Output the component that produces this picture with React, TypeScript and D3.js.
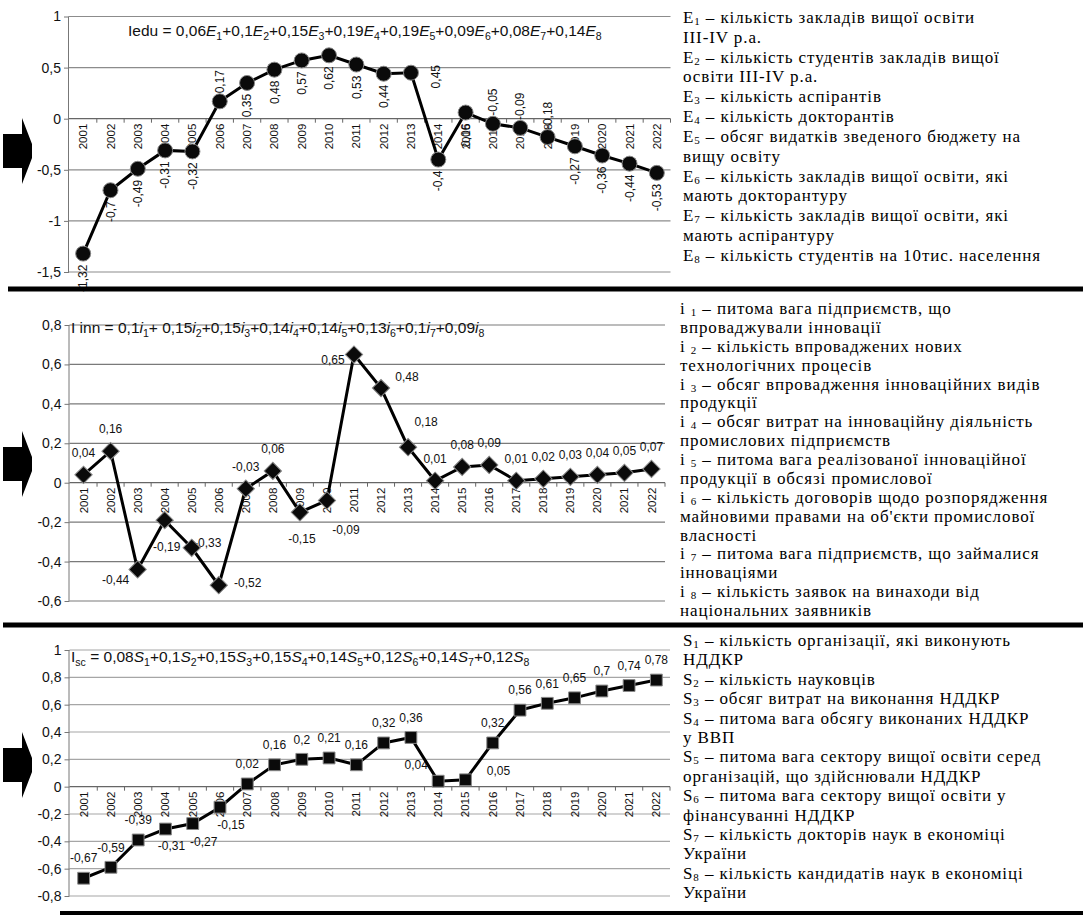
import React, { useEffect, useRef } from "react";
import * as d3 from "d3";

// categories
const years = [
  "2001", "2002", "2003", "2004", "2005", "2006", "2007", "2008", "2009", "2010", "2011",
  "2012", "2013", "2014", "2015", "2016", "2017", "2018", "2019", "2020", "2021", "2022",
];

// Iedu
const eduValues = [
  -1.32, -0.7, -0.49, -0.31, -0.32, 0.17, 0.35, 0.48, 0.57, 0.62, 0.53,
  0.44, 0.45, -0.4, 0.06, -0.05, -0.09, -0.18, -0.27, -0.36, -0.44, -0.53,
];
const eduTicks = [1, 0.5, 0, -0.5, -1, -1.5];
const eduLabelPos = [
  "b", "b", "b", "b", "b", "t", "b", "b", "b", "b", "b",
  "b", "r", "b", "b", "t", "t", "t", "b", "b", "b", "b",
];

// I inn
const innValues = [
  0.04, 0.16, -0.44, -0.19, -0.33, -0.52, -0.03, 0.06, -0.15, -0.09, 0.65,
  0.48, 0.18, 0.01, 0.08, 0.09, 0.01, 0.02, 0.03, 0.04, 0.05, 0.07,
];
const innTicks = [0.8, 0.6, 0.4, 0.2, 0, -0.2, -0.4, -0.6];
const innLabelPos = [
  "t", "t", "bl", "b", "r", "rr", "t", "t", "b", "br", "l",
  "tr", "tr2", "t", "t", "t", "t", "t", "t", "t", "t", "t",
];

// Isc
const scValues = [
  -0.67, -0.59, -0.39, -0.31, -0.27, -0.15, 0.02, 0.16, 0.2, 0.21, 0.16,
  0.32, 0.36, 0.04, 0.05, 0.32, 0.56, 0.61, 0.65, 0.7, 0.74, 0.78,
];
const scTicks = [1, 0.8, 0.6, 0.4, 0.2, 0, -0.2, -0.4, -0.6, -0.8];
const scLabelPos = [
  "t", "t", "t", "b", "br", "br", "t", "t", "t", "t", "t",
  "t", "t", "tl", "r", "t", "t", "t", "t", "t", "t", "t",
];

const eduFormula = "Iedu = 0,06E1+0,1E2+0,15E3+0,19E4+0,19E5+0,09E6+0,08E7+0,14E8";
const innFormula = "I inn = 0,1i1+ 0,15i2+0,15i3+0,14i4+0,14i5+0,13i6+0,1i7+0,09i8";
const scFormula = "I_sc = 0,08S1+0,1S2+0,15S3+0,15S4+0,14S5+0,12S6+0,14S7+0,12S8";

const eduLegend = [
  "E|1| – кількість закладів вищої освіти",
  "III-IV р.а.",
  "E|2| – кількість студентів закладів вищої",
  "освіти III-IV р.а.",
  "E|3| – кількість аспірантів",
  "E|4| – кількість докторантів",
  "E|5| – обсяг видатків зведеного бюджету на",
  "вищу освіту",
  "E|6| – кількість закладів вищої освіти, які",
  "мають докторантуру",
  "E|7| – кількість закладів вищої освіти, які",
  "мають аспірантуру",
  "E|8| – кількість студентів на 10тис. населення",
];
const innLegend = [
  "i |1| – питома вага підприємств, що",
  "впроваджували інновації",
  "i |2| – кількість впроваджених нових",
  "технологічних процесів",
  "i |3| – обсяг впровадження інноваційних видів",
  "продукції",
  "i |4| – обсяг витрат на інноваційну діяльність",
  "промислових підприємств",
  "i |5| – питома вага реалізованої інноваційної",
  "продукції в обсязі промислової",
  "i |6| – кількість договорів щодо розпорядження",
  "майновими правами на об'єкти промислової",
  "власності",
  "i |7| – питома вага підприємств, що займалися",
  "інноваціями",
  "i |8| – кількість заявок на винаходи від",
  "національних заявників",
];
const scLegend = [
  "S|1| – кількість організації, які виконують",
  "НДДКР",
  "S|2| – кількість науковців",
  "S|3| – обсяг витрат на виконання НДДКР",
  "S|4| – питома вага обсягу виконаних НДДКР",
  "у ВВП",
  "S|5| – питома вага сектору вищої освіти серед",
  "організацій, що здійснювали НДДКР",
  "S|6| – питома вага сектору вищої освіти у",
  "фінансуванні НДДКР",
  "S|7| – кількість докторів наук в економіці",
  "України",
  "S|8| – кількість кандидатів наук в економіці",
  "України",
];

const SANS = "Liberation Sans, Arial, sans-serif";
const SERIF = "Liberation Serif, Times New Roman, serif";
const fmt = (v) => String(v).replace(".", ",");

const panels = [
  {
    values: eduValues, ticks: eduTicks, domain: [-1.5, 1], yRange: [272, 16.5], xRange: [69.5, 670.5],
    marker: "circle", labelPos: eduLabelPos, rotated: true, formula: eduFormula, fx: 128, fy: 36,
    grid: "#8c8c8c", arrowY: 151, legend: eduLegend, lx: 683, ly: 23, lstep: 19.83,
  },
  {
    values: innValues, ticks: innTicks, domain: [-0.6, 0.8], yRange: [601, 325], xRange: [70, 665],
    marker: "diamond", labelPos: innLabelPos, rotated: false, formula: innFormula, fx: 71, fy: 333,
    grid: "#7a7a7a", arrowY: 464, legend: innLegend, lx: 680, ly: 314, lstep: 18.875,
    offsets: { t: [0, -22], b: [2, 27], bl: [-22, 10], br: [19, 29], l: [-21, 5], r: [16, -5], rr: [29, -2], tr: [26, -11], tr2: [18, -25] },
  },
  {
    values: scValues, ticks: scTicks, domain: [-0.8, 1], yRange: [896, 650], xRange: [70, 670],
    marker: "square", labelPos: scLabelPos, rotated: false, formula: scFormula, fx: 71, fy: 662,
    grid: "#a6a6a6", arrowY: 765, legend: scLegend, lx: 683, ly: 646, lstep: 19.4,
    offsets: { t: [0, -20], b: [6, 17], br: [11, 18], tl: [-22, -16], r: [33, -9] },
  },
];

function richText(text, str) {
  const re = /_([a-z]+)|([A-Za-z])(\d)/g;
  let last = 0;
  let shifted = false;
  let m;
  const plain = (s, italic) => {
    const t = text.append("tspan").text(s);
    if (italic) t.attr("font-style", "italic");
    if (shifted) { t.attr("dy", -4); shifted = false; }
  };
  const sub = (s) => {
    text.append("tspan").attr("dy", shifted ? 0 : 4).attr("font-size", "0.68em").text(s);
    shifted = true;
  };
  while ((m = re.exec(str))) {
    if (m.index > last) plain(str.slice(last, m.index), false);
    if (m[1]) sub(m[1]);
    else { plain(m[2], true); sub(m[3]); }
    last = re.lastIndex;
  }
  if (last < str.length) plain(str.slice(last), false);
}

const App = () => {
  const svgRef = useRef(null);

  useEffect(() => {
    const svg = d3.select(svgRef.current);
    svg.selectAll("*").remove();
    svg.append("rect").attr("width", 1086).attr("height", 918).attr("fill", "#fff");

    panels.forEach((p) => {
      const g = svg.append("g");
      const x = d3.scaleBand().domain(years).range(p.xRange).paddingInner(0);
      const y = d3.scaleLinear().domain(p.domain).range(p.yRange);
      const cx = (i) => x(years[i]) + x.bandwidth() / 2;
      const y0 = y(0);
      const axisX = p.xRange[0] - 0.5;

      // gridlines
      g.append("g")
        .selectAll("line")
        .data(p.ticks.filter((t) => t !== 0))
        .join("line")
        .attr("x1", axisX)
        .attr("x2", p.xRange[1])
        .attr("y1", (d) => y(d))
        .attr("y2", (d) => y(d))
        .attr("stroke", p.grid)
        .attr("stroke-width", 1.2);

      // y axis
      g.append("g")
        .attr("transform", `translate(${axisX},0)`)
        .call(d3.axisLeft(y).tickValues(p.ticks).tickSize(5).tickPadding(3).tickFormat(fmt))
        .call((a) => a.select(".domain").attr("stroke", "#777").attr("d", `M-0.5,${p.yRange[1]}V${p.yRange[0]}`))
        .call((a) => a.selectAll(".tick line").attr("stroke", "#777"))
        .call((a) => a.selectAll(".tick text").attr("font-family", SANS).attr("font-size", 14).attr("fill", "#111"));

      // zero axis with category boundary ticks
      g.append("line")
        .attr("x1", axisX).attr("x2", p.xRange[1])
        .attr("y1", y0).attr("y2", y0)
        .attr("stroke", "#666").attr("stroke-width", 1.3);
      g.append("g")
        .selectAll("line")
        .data(d3.range(1, years.length + 1))
        .join("line")
        .attr("x1", (i) => p.xRange[0] + i * x.step())
        .attr("x2", (i) => p.xRange[0] + i * x.step())
        .attr("y1", y0)
        .attr("y2", y0 + 4)
        .attr("stroke", "#666");
      g.append("g")
        .selectAll("text")
        .data(years)
        .join("text")
        .attr("transform", (d, i) => `translate(${cx(i)},${y0 + 5}) rotate(-90)`)
        .attr("text-anchor", "end")
        .attr("dy", "0.35em")
        .attr("font-family", SANS)
        .attr("font-size", 11.5)
        .attr("fill", "#111")
        .text((d) => d);

      // formula
      richText(
        g.append("text").attr("x", p.fx).attr("y", p.fy).attr("font-family", SANS).attr("font-size", 15.5).attr("fill", "#111"),
        p.formula
      );

      // data labels
      const labels = g.append("g").attr("font-family", SANS).attr("font-size", 12).attr("fill", "#111");
      if (p.rotated) {
        labels
          .selectAll("text")
          .data(p.values)
          .join("text")
          .attr("transform", (d, i) => {
            const pos = p.labelPos[i];
            if (pos === "t") return `translate(${cx(i)},${y(d) - 8}) rotate(-90)`;
            if (pos === "r") return `translate(${cx(i) + 25},${y(d) + 4}) rotate(-90)`;
            return `translate(${cx(i)},${y(d) + 11}) rotate(-90)`;
          })
          .attr("text-anchor", (d, i) => (p.labelPos[i] === "t" ? "start" : p.labelPos[i] === "r" ? "middle" : "end"))
          .attr("dy", "0.35em")
          .text((d) => fmt(d));
      } else {
        labels
          .selectAll("text")
          .data(p.values)
          .join("text")
          .attr("x", (d, i) => cx(i) + p.offsets[p.labelPos[i]][0])
          .attr("y", (d, i) => y(d) + p.offsets[p.labelPos[i]][1])
          .attr("text-anchor", "middle")
          .attr("dy", "0.35em")
          .text((d) => fmt(d));
      }

      // line
      g.append("path")
        .datum(p.values)
        .attr("fill", "none")
        .attr("stroke", "#000")
        .attr("stroke-width", 3)
        .attr("d", d3.line().x((d, i) => cx(i)).y((d) => y(d)));

      // markers
      const mk = g.append("g");
      if (p.marker === "circle") {
        mk.selectAll("circle")
          .data(p.values)
          .join("circle")
          .attr("cx", (d, i) => cx(i))
          .attr("cy", (d) => y(d))
          .attr("r", 7.5)
          .attr("fill", "#0a0a0a")
          .attr("stroke", "#888")
          .attr("stroke-width", 1);
      } else {
        const sym = d3.symbol(d3.symbolSquare, p.marker === "diamond" ? 150 : 140);
        mk.selectAll("path")
          .data(p.values)
          .join("path")
          .attr("d", sym)
          .attr("transform", (d, i) => `translate(${cx(i)},${y(d)})${p.marker === "diamond" ? " rotate(45)" : ""}`)
          .attr("fill", "#0a0a0a")
          .attr("stroke", "#888")
          .attr("stroke-width", 1);
      }

      // arrow
      const c = p.arrowY;
      g.append("path")
        .attr("d", `M3,${c - 17}H22V${c - 33}L32,${c - 7}V${c + 7}L22,${c + 33}V${c + 17}H3Z`)
        .attr("fill", "#000");

      // legend
      const lg = g.append("g")
        .style("font-family", SERIF)
        .style("font-size", "17px")
        .style("letter-spacing", "0.9px")
        .attr("fill", "#000");
      p.legend.forEach((line, i) => {
        const t = lg.append("text").attr("x", p.lx).attr("y", p.ly + i * p.lstep);
        const parts = line.split("|");
        if (parts.length === 3) {
          t.append("tspan").text(parts[0]);
          t.append("tspan").attr("dy", 2).style("font-size", "11px").text(parts[1]);
          t.append("tspan").attr("dy", -2).text(parts[2]);
        } else {
          t.text(line);
        }
      });
    });

    // separators
    const seps = [
      { y: 289, x1: 8, w: 5 },
      { y: 625, x1: 3, w: 5 },
      { y: 913, x1: 60, w: 4 },
    ];
    svg.append("g")
      .selectAll("line")
      .data(seps)
      .join("line")
      .attr("x1", (d) => d.x1)
      .attr("x2", 1083)
      .attr("y1", (d) => d.y)
      .attr("y2", (d) => d.y)
      .attr("stroke", "#000")
      .attr("stroke-width", (d) => d.w);
  }, []);

  return (
    <svg
      ref={svgRef}
      width={1086}
      height={918}
      style={{ position: "absolute", left: 0, top: 0, display: "block" }}
    />
  );
};

export default App;
